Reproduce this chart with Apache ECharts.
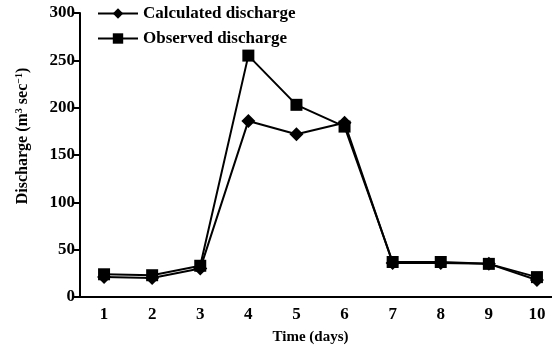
<!DOCTYPE html>
<html lang="en">
<head>
    <meta charset="UTF-8">
    <title>Discharge</title>
    <style>
        * { padding: 0; margin: 0; }
        #myChart { width: 552px; height: 355px; background: #fff; }
    </style>
</head>
<body>
    <div id="myChart"></div>
    <script src="https://cdn.jsdelivr.net/npm/echarts@6/dist/echarts.min.js"></script>
    <script>
        // data
        const days = ["1", "2", "3", "4", "5", "6", "7", "8", "9", "10"];
        const calculated = [21, 20, 30, 186, 172, 184, 36, 36, 35, 18];
        const observed = [24, 23, 33, 255, 203, 180, 37, 37, 35, 21];
        const yTicks = [0, 50, 100, 150, 200, 250, 300];

        const font = "'Liberation Serif', 'Times New Roman', serif";
        let myChart = echarts.init(document.getElementById('myChart'));
        let option = {
            backgroundColor: "#ffffff",
            animation: false,
            grid: {
                left: 80,
                right: -9,
                top: 13,
                bottom: 58,
                containLabel: false,
                outerBoundsMode: "none",
            },
            legend: {
                orient: "vertical",
                left: 92,
                top: 0,
                itemWidth: 40,
                itemHeight: 13,
                itemGap: 8,
                textStyle: {
                    color: "#000",
                    fontFamily: font,
                    fontWeight: "bold",
                    fontSize: 17,
                },
            },
            xAxis: {
                type: "category",
                data: days,
                boundaryGap: true,
                name: "Time (days)",
                nameLocation: "middle",
                nameGap: 33,
                nameTextStyle: {
                    color: "#000",
                    fontFamily: font,
                    fontWeight: "bold",
                    fontSize: 15,
                    padding: [0, 20, 0, 0],
                },
                axisLine: { lineStyle: { color: "#000", width: 2 } },
                axisTick: { length: 6, lineStyle: { color: "#000", width: 2 } },
                axisLabel: {
                    color: "#000",
                    fontFamily: font,
                    fontWeight: "bold",
                    fontSize: 17,
                    margin: 9,
                },
                splitLine: { show: false },
            },
            yAxis: {
                type: "value",
                min: yTicks[0],
                max: yTicks[yTicks.length - 1],
                interval: 50,
                name: "{n|Discharge (m}{s|3}{n| sec}{s|\u22121}{n|)}",
                nameLocation: "middle",
                nameGap: 48,
                nameTextStyle: {
                    padding: [0, 0, 0, 38],
                    rich: {
                        n: { color: "#000", fontFamily: font, fontWeight: "bold", fontSize: 16 },
                        s: { color: "#000", fontFamily: font, fontWeight: "bold", fontSize: 10, verticalAlign: "top", padding: [0, 0, 8, 0] },
                    },
                },
                axisLine: { show: true, lineStyle: { color: "#000", width: 2 } },
                axisTick: { show: true, length: 6, lineStyle: { color: "#000", width: 2 } },
                axisLabel: {
                    color: "#000",
                    fontFamily: font,
                    fontWeight: "bold",
                    fontSize: 17,
                    margin: 5,
                },
                splitLine: { show: false },
            },
            series: [{
                    name: "Calculated discharge",
                    type: "line",
                    data: calculated,
                    symbol: "diamond",
                    symbolSize: 14,
                    itemStyle: { color: "#000" },
                    lineStyle: { color: "#000", width: 2 },
                },
                {
                    name: "Observed discharge",
                    type: "line",
                    data: observed,
                    symbol: "rect",
                    symbolSize: 12,
                    itemStyle: { color: "#000" },
                    lineStyle: { color: "#000", width: 2 },
                },
            ],
        };
        myChart.setOption(option, true);
    </script>
</body>
</html>
